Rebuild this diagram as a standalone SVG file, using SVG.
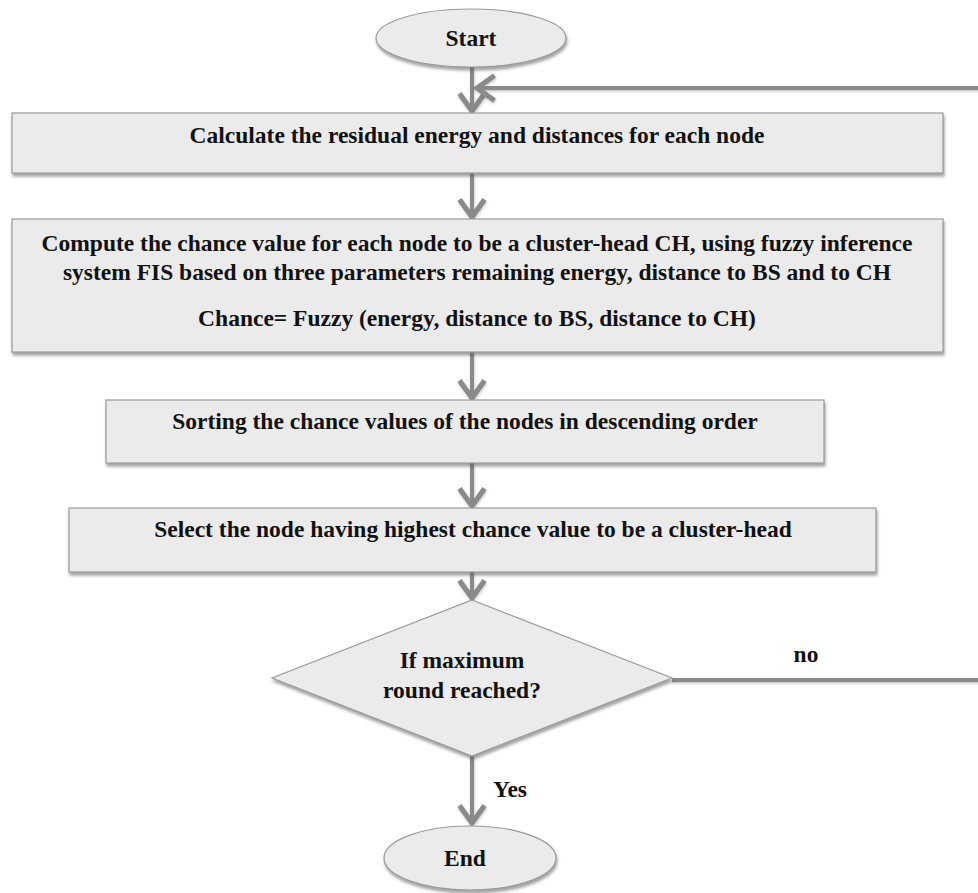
<svg xmlns="http://www.w3.org/2000/svg" width="978" height="893" viewBox="0 0 978 893">
<defs>
<style>
.shape{fill:#ebebeb;stroke:#9a9a9a;stroke-width:1.2;filter:url(#sh)}
.t{font-family:"Liberation Serif","Times New Roman",serif;font-weight:bold;font-size:23.5px;fill:#111;text-anchor:middle}
.c{fill:none;stroke:#8a8a8a;stroke-width:4;filter:url(#lsh)}
</style>
<filter id="sh" x="-5%" y="-10%" width="110%" height="130%">
<feDropShadow dx="1" dy="3" stdDeviation="1.5" flood-color="#555" flood-opacity="0.55"/>
</filter>
<filter id="lsh" filterUnits="userSpaceOnUse" x="0" y="0" width="978" height="893">
<feDropShadow dx="0.5" dy="1.5" stdDeviation="1" flood-color="#666" flood-opacity="0.4"/>
</filter>
<marker id="ah" markerUnits="userSpaceOnUse" markerWidth="30" markerHeight="30" viewBox="-16 -12 20 24" refX="0" refY="0" orient="auto">
<path d="M-14,-10 L0,0 L-14,10" fill="none" stroke="#8a8a8a" stroke-width="4" stroke-linejoin="miter"/>
</marker>
</defs>
<rect width="978" height="893" fill="#fff"/>

<g id="connectors">
<path class="c" d="M472,67 V111" marker-end="url(#ah)"/>
<path class="c" d="M672,680 H990 V88 H477" marker-end="url(#ah)"/>
<path class="c" d="M472,173 V217" marker-end="url(#ah)"/>
<path class="c" d="M472,352 V398" marker-end="url(#ah)"/>
<path class="c" d="M472,463 V506" marker-end="url(#ah)"/>
<path class="c" d="M472,572 V598" marker-end="url(#ah)"/>
<path class="c" d="M472,756 V823" marker-end="url(#ah)"/>
<text class="t" x="806" y="662">no</text>
<text class="t" x="510" y="797">Yes</text>
</g>

<g id="start">
<ellipse class="shape" cx="471" cy="38" rx="95" ry="29"/>
<text class="t" x="471" y="46">Start</text>
</g>

<g id="calc">
<rect class="shape" x="12" y="113" width="931" height="60"/>
<text class="t" x="477" y="143">Calculate the residual energy and distances for each node</text>
</g>

<g id="compute">
<rect class="shape" x="12" y="219" width="931" height="133"/>
<text class="t" x="477" y="251">Compute the chance value for each node to be a cluster-head CH, using fuzzy inference</text>
<text class="t" x="477" y="280">system FIS based on three parameters remaining energy, distance to BS and to CH</text>
<text class="t" x="477" y="326">Chance= Fuzzy (energy, distance to BS, distance to CH)</text>
</g>

<g id="sort">
<rect class="shape" x="106" y="400" width="718" height="63"/>
<text class="t" x="465" y="429">Sorting the chance values of the nodes in descending order</text>
</g>

<g id="select">
<rect class="shape" x="69" y="508" width="807" height="64"/>
<text class="t" x="473" y="537">Select the node having highest chance value to be a cluster-head</text>
</g>

<g id="decision">
<polygon class="shape" points="472,600 672,678 472,756 272,678"/>
<text class="t" x="462" y="668">If maximum</text>
<text class="t" x="462" y="698">round reached?</text>
</g>

<g id="end">
<ellipse class="shape" cx="470" cy="858" rx="86" ry="32"/>
<text class="t" x="465" y="866">End</text>
</g>
</svg>
